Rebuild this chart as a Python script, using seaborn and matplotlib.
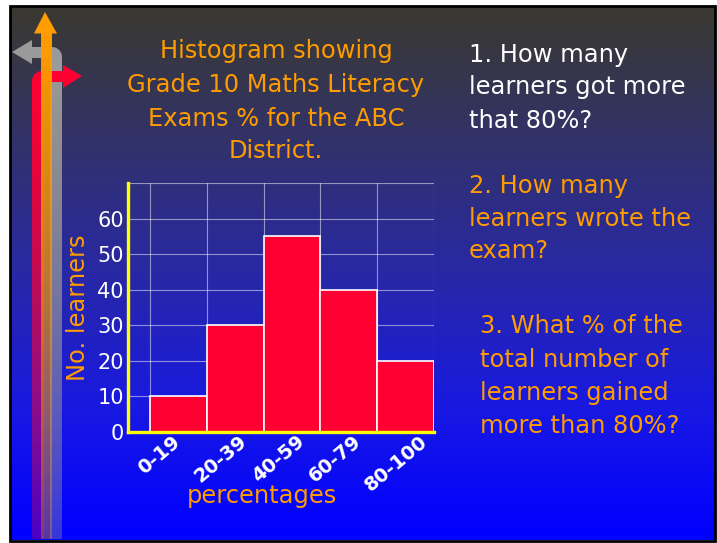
import numpy as np
import pandas as pd
import matplotlib
matplotlib.use("Agg")
import matplotlib.pyplot as plt
import matplotlib.transforms as mtransforms
import seaborn as sns
from matplotlib.patches import Polygon, Rectangle

# data
bins = ["0-19", "20-39", "40-59", "60-79", "80-100"]
learners = [10, 30, 55, 40, 20]
y_ticks = [0, 10, 20, 30, 40, 50, 60, 70]
y_tick_labels = ["0", "10", "20", "30", "40", "50", "60", ""]

title_lines = ["Histogram showing", "Grade 10 Maths Literacy",
               "Exams % for the ABC", "District."]
q1_lines = ["1. How many", "learners got more", "that 80%?"]
q2_lines = ["2. How many", "learners wrote the", "exam?"]
q3_lines = ["3. What % of the", "total number of",
            "learners gained", "more than 80%?"]

ORANGE = "#ff9c00"
RED = "#ff0033"
YELLOW = "#ffff00"
GREY = "#9a9a9a"

sns.set_theme(style="white")
plt.rcParams["font.family"] = ["DejaVu Sans"]

W, H = 717, 543
fig = plt.figure(figsize=(W / 100, H / 100), dpi=100, facecolor="white")

# full-figure layer in pixel coordinates for the slide background and decoration
deco = fig.add_axes([0, 0, 1, 1], zorder=0)
deco.axis("off")

stop_pos = [0.0, 0.25, 0.5, 0.75, 0.93, 1.0]
stop_col = np.array([(58, 57, 47), (50, 50, 105), (40, 40, 165),
                     (25, 25, 225), (6, 6, 250), (0, 0, 255)]) / 255
t = np.linspace(0, 1, 300)
grad = np.stack([np.interp(t, stop_pos, stop_col[:, i]) for i in range(3)], axis=-1)
deco.imshow(grad[:, None, :], extent=(10, 715, 540, 6), aspect="auto",
            interpolation="bilinear", zorder=0)
deco.add_patch(Rectangle((9.5, 5.5), 705.5, 535, fill=False, ec="black", lw=2, zorder=1))


def shaft(x0, x1, y0, y1, colour, a_top, a_bot, z):
    img = np.zeros((200, 1, 4))
    img[..., :3] = matplotlib.colors.to_rgb(colour)
    img[:, 0, 3] = np.linspace(a_top, a_bot, 200)
    deco.imshow(img, extent=(x0, x1, y1, y0), aspect="auto",
                interpolation="bilinear", zorder=z)


def arc(cx, cy, r, a0, a1, n=12):
    ang = np.radians(np.linspace(a0, a1, n))
    return [(cx + r * np.cos(a), cy - r * np.sin(a)) for a in ang]


# grey arrow bending left
shaft(50, 62, 70, 539, GREY, 1.0, 0.35, 2)
grey_pts = ([(50, 70), (50, 58), (32, 58), (32, 64), (12, 52), (32, 40), (32, 47), (52, 47)]
            + arc(52, 57, 10, 90, 0) + [(62, 70)])
deco.add_patch(Polygon(grey_pts, closed=True, fc=GREY, ec="none", zorder=2))

# red arrow bending right
shaft(32, 44, 92, 539, RED, 1.0, 0.3, 3)
red_pts = ([(32, 92)] + arc(42, 81, 10, 180, 90) + [(63, 71), (63, 65), (82, 76),
           (63, 88), (63, 82), (44, 82), (44, 92)])
deco.add_patch(Polygon(red_pts, closed=True, fc=RED, ec="none", zorder=3))

# orange arrow pointing up
shaft(41, 52, 33, 539, ORANGE, 1.0, 0.35, 4)
deco.add_patch(Polygon([(34, 33.5), (45, 12), (57, 33.5)], closed=True,
                       fc=ORANGE, ec="none", zorder=4))

deco.set_xlim(0, W)
deco.set_ylim(H, 0)


def block(lines, x, baselines, colour, ha):
    for line, yb in zip(lines, baselines):
        deco.text(x, yb, line, color=colour, fontsize=17.4, ha=ha, va="baseline", zorder=6)


block(title_lines, 276, [58, 92, 126, 158], ORANGE, "center")
block(q1_lines, 469, [62, 94, 128], "white", "left")
block(q2_lines, 469, [193, 226, 258], ORANGE, "left")
block(q3_lines, 480, [333, 367, 400, 433], ORANGE, "left")

# histogram
ax = fig.add_axes([128 / W, 1 - 432 / H, 306 / W, 249 / H], zorder=2)
ax.patch.set_alpha(0)
df = pd.DataFrame({"bin": bins, "learners": learners})
sns.barplot(data=df, x="bin", y="learners", color=RED, saturation=1, width=1,
            edgecolor="white", linewidth=1.2, ax=ax)

ax.set_xlim(-0.886, 4.5)
ax.set_ylim(0, 70)
ax.set_yticks(y_ticks)
ax.set_yticklabels(y_tick_labels)
ax.set_xticks(np.arange(-0.5, 5, 1), minor=True)
ax.set_axisbelow(True)
ax.grid(which="minor", axis="x", color="white", alpha=0.5, lw=0.8)
ax.grid(which="major", axis="y", color="white", alpha=0.5, lw=0.8)
ax.grid(which="major", axis="x", visible=False)

for side in ["top", "right"]:
    ax.spines[side].set_visible(False)
for side in ["left", "bottom"]:
    ax.spines[side].set_color(YELLOW)
    ax.spines[side].set_linewidth(2.4)

ax.tick_params(axis="both", which="both", length=0)
ax.tick_params(axis="y", colors="white", labelsize=15, pad=3)
ax.tick_params(axis="x", colors="white", pad=0)
# slide labels: rotated box hangs from a point left of each bar centre
shift = mtransforms.ScaledTranslation(-0.44, 0, fig.dpi_scale_trans)
for lab in ax.get_xticklabels():
    lab.set_rotation(40)
    lab.set_ha("left")
    lab.set_va("top")
    lab.set_fontweight("bold")
    lab.set_fontsize(14)
    lab.set_transform(lab.get_transform() + shift)

ax.set_xlabel("percentages", color=ORANGE, fontsize=17.4)
ax.xaxis.label.set_va("baseline")
ax.xaxis.set_label_coords(0.438, -0.285)
ax.set_ylabel("No. learners", color=ORANGE, fontsize=17.4)
ax.yaxis.set_label_coords(-0.125, 0.5)

fig.savefig("out.png", dpi=100, facecolor="white")
